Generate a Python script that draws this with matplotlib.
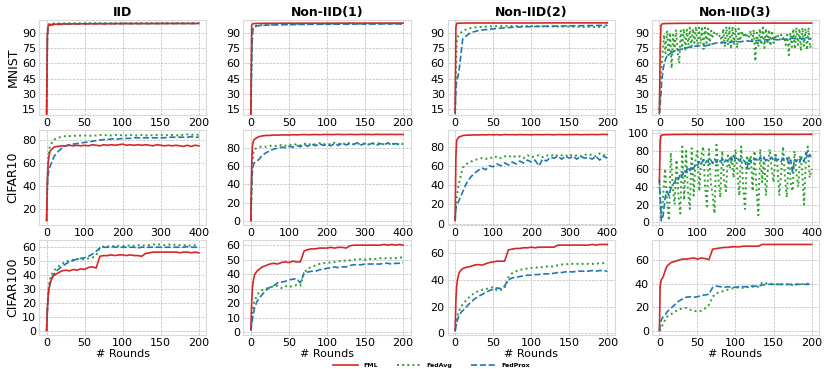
import matplotlib
matplotlib.use("Agg")
from matplotlib import pyplot as plt

r_sparse = [0, 1, 2, 3, 5, 10, 20, 30, 40, 60, 80, 100, 120, 140, 160, 180, 200]
r200 = [0, 1, 2, 3, 5, 8] + list(range(10, 201, 5))
r200_dense = list(range(0, 201, 2))
r400 = [0, 2, 4, 6, 8] + list(range(10, 401, 10))
r400_dense = list(range(0, 401, 5))

# MNIST
mnist_iid_fml = [10, 88, 96.5, 97.5, 98.0, 98.3, 98.5, 98.6, 98.7, 98.8, 98.8, 98.9, 98.9, 98.9, 99.0, 99.0, 99.0]
mnist_iid_fedavg = [12, 92, 98.0, 98.5, 98.8, 99.0, 99.1, 99.2, 99.2, 99.3, 99.3, 99.3, 99.3, 99.4, 99.4, 99.4, 99.4]
mnist_iid_fedprox = [10, 85, 96.0, 97.0, 97.5, 97.8, 98.2, 98.5, 98.6, 98.7, 98.8, 98.9, 98.9, 99.0, 99.0, 99.0, 99.0]

mnist_n1_fml = [10, 97, 98.5, 98.8, 99.0, 99.1, 99.2, 99.2, 99.3, 99.3, 99.3, 99.3, 99.4, 99.4, 99.4, 99.4, 99.4]
mnist_n1_fedavg = [12, 70, 92, 95, 96.5, 97.3, 97.8, 98.0, 98.2, 98.4, 98.5, 98.6, 98.7, 98.7, 98.8, 98.8, 98.8]
mnist_n1_fedprox = [10, 60, 88, 94, 96.0, 96.8, 97.3, 97.6, 97.8, 98.0, 98.2, 98.3, 98.4, 98.5, 98.5, 98.6, 98.6]

mnist_n2_fml = [12, 95, 99.0, 99.2, 99.3, 99.4, 99.5, 99.5, 99.5, 99.5, 99.5, 99.5, 99.6, 99.6, 99.6, 99.6, 99.6]
mnist_n2_fedavg = [15, 55, 80, 85, 88, 92, 94.5, 95.5, 96.0, 96.5, 96.5, 96.3, 96.2, 96.0, 95.8, 95.6, 95.5]
mnist_n2_fedprox = [10, 35, 44, 45, 52, 84, 90, 92, 93, 94.5, 95.5, 96, 96.3, 96.5, 96.8, 97, 97.2]

mnist_n3_fml = [12, 70, 97, 98.5, 98.8, 99.0, 99.1, 99.2, 99.2, 99.3, 99.3, 99.3, 99.3, 99.4, 99.4, 99.4, 99.4]
mnist_n3_fedavg = [15, 50, 66, 88, 70, 92, 68, 90, 55, 88,
                   72, 93, 70, 60, 92, 75, 94, 72, 93, 78,
                   95, 74, 94, 80, 96, 76, 95, 79, 96, 74,
                   95, 80, 94, 78, 92, 86, 90, 87, 89, 86,
                   88, 80, 94, 76, 96, 78, 95, 74, 96, 79,
                   95, 75, 94, 82, 92, 86, 90, 85, 89, 86,
                   92, 80, 93, 62, 90, 76, 94, 78, 95, 75,
                   94, 79, 93, 77, 92, 80, 88, 84, 87, 83,
                   88, 84, 86, 78, 88, 68, 90, 76, 94, 74,
                   95, 78, 94, 72, 95, 77, 94, 73, 95, 75,
                   80]
mnist_n3_fedprox = [10, 20, 30, 42, 55, 64, 67, 70, 72, 73, 74, 75, 76, 76.5, 77, 77.5, 77, 78, 79, 80,
                    80, 80.5, 80, 81, 81.5, 81, 81.5, 82, 81.5, 82, 82.5, 82.5, 83, 83, 83.5, 83, 84,
                    83.5, 84, 84.5, 84, 84.5, 84, 84.5, 84]

# CIFAR10
c10_iid_fml = [10, 45, 60, 66, 69, 71, 74, 74.5, 75, 75, 75.5, 75, 75.5, 75, 75.5, 75, 76, 75.5, 75, 76,
               75.5, 76, 75.5, 76, 76.5, 75.5, 76, 75.5, 76, 75.5, 76, 75.5, 75, 76, 75.5, 75, 75.5, 75,
               75.5, 75, 74.5, 75.5, 74.5, 75.5, 75]
c10_iid_fedavg = [10, 45, 62, 70, 74, 76, 80.5, 82, 83, 83.5, 83.5, 84, 83.5, 84, 84, 83.5, 84, 84, 84.5,
                  84, 84.5, 84, 84.5, 84, 84.5, 84, 84.5, 84, 84, 84.5, 84, 84.5, 84, 84.5, 84.5, 84, 84.5,
                  84.5, 84, 84.5, 84.5, 85, 84.5, 85, 84.5]
c10_iid_fedprox = [10, 40, 50, 54, 56, 58, 66, 70, 73, 75, 76, 76.5, 77, 77.5, 78, 78.5, 79, 79.5, 80, 80.5,
                   80.5, 81, 81, 81, 81.5, 81.5, 81.5, 82, 82, 82, 82, 82, 82, 82, 82, 82, 82.5, 82.5, 82.5,
                   82.5, 82.5, 82.5, 83, 82.5, 82.5]

c10_n1_fml = [0, 60, 82, 87, 89, 90, 92.5, 93.5, 94, 94, 94.5, 94.3, 94.5, 94.6, 94.5, 94.8, 94.6, 94.8, 95,
              94.7, 94.9, 95, 94.8, 95, 95.1, 94.9, 95, 95.2, 94.9, 95, 95.1, 95, 94.9, 95.2, 95, 95.1, 94.9,
              95.2, 95, 95.1, 95, 95.2, 95, 95.1, 95]
c10_n1_fedavg = [0, 40, 65, 74, 78, 79, 81, 82, 81.5, 82.5, 83, 82, 83.5, 82.5, 84, 83, 84.5, 83, 85, 83.5,
                 85, 84, 85.5, 84, 85, 84, 86, 84.5, 85.5, 84, 86, 84.5, 85, 84, 85.5, 84, 85, 84.5, 86, 84,
                 85.5, 84.5, 85, 84, 85]
c10_n1_fedprox = [0, 35, 55, 60, 63, 64, 67, 72, 75, 77, 79, 80, 81, 80.5, 82, 81, 83, 81.5, 84, 82, 84.5,
                  82.5, 85, 83, 84, 82.5, 85, 83, 85.5, 83.5, 85, 84, 86, 83.5, 85, 84, 85.5, 83, 85, 84,
                  85.5, 83.5, 85, 84, 84.5]

c10_n2_fml = [3, 70, 86, 88, 89, 90, 91.5, 92, 92, 92.3, 92.1, 92.4, 92.2, 92.5, 92.3, 92.5, 92.2, 92.6, 92.4,
              92.5, 92.3, 92.6, 92.4, 92.5, 92.3, 92.6, 92.5, 92.4, 92.6, 92.5, 92.3, 92.6, 92.5, 92.4, 92.6,
              92.5, 92.7, 92.4, 92.6, 92.5, 92.7, 92.5, 92.6, 92.8, 92.6]
c10_n2_fedavg = [5, 20, 27, 32, 38, 42, 58, 62, 64, 66, 67, 68, 67, 69, 68, 70, 68, 70, 69, 71, 69, 70, 68,
                 71, 69, 70, 71, 69, 71, 70, 72, 70, 71, 70, 72, 70, 71, 70, 72, 71, 72, 70, 73, 71, 73]
c10_n2_fedprox = [3, 15, 20, 21, 22, 24, 33, 42, 48, 52, 55, 58, 56, 60, 59, 62, 60, 63, 61, 64, 62, 65, 63,
                  66, 64, 66, 60, 67, 65, 69, 68, 70, 67, 70, 68, 70, 67, 70, 68, 69, 67, 70, 66, 70, 68]

c10_n3_fml = [45, 90, 97, 97.5, 98, 98, 98.3, 98.4, 98.5, 98.4, 98.5, 98.6, 98.5, 98.6, 98.5, 98.6, 98.5,
              98.6, 98.6, 98.5, 98.6, 98.6, 98.5, 98.6, 98.6, 98.5, 98.6, 98.6, 98.5, 98.6, 98.6, 98.6, 98.5,
              98.6, 98.6, 98.6, 98.5, 98.6, 98.6, 98.6, 98.5, 98.6, 98.6, 98.6, 98.6]
c10_n3_fedavg = [40, 5, 30, 60, 25, 2, 78, 40, 20, 70,
                 30, 10, 85, 25, 80, 35, 15, 83, 30, 70,
                 80, 35, 75, 85, 40, 18, 82, 45, 30, 10,
                 87, 50, 28, 80, 45, 35, 75, 60, 75, 50,
                 82, 55, 30, 85, 40, 15, 75, 60, 75, 35,
                 80, 40, 8, 82, 45, 75, 30, 60, 82, 60,
                 45, 78, 65, 30, 55, 85, 50, 28, 75, 45,
                 35, 80, 55, 40, 75, 60, 20, 70, 85, 50,
                 60]
c10_n3_fedprox = [48, 2, 8, 28, 35, 30, 38, 42, 45, 50,
                  48, 55, 52, 58, 56, 62, 58, 63, 60, 66,
                  64, 68, 65, 70, 66, 69, 67, 70, 66, 71,
                  67, 70, 68, 71, 67, 70, 68, 72, 69, 75,
                  70, 72, 69, 72, 70, 68, 60, 70, 68, 72,
                  70, 71, 68, 73, 70, 72, 69, 71, 70, 73,
                  69, 72, 70, 71, 68, 72, 70, 72, 66, 70,
                  56, 70, 68, 72, 69, 73, 68, 78, 72, 76,
                  72]

# CIFAR100
c100_iid_fml = [0, 15, 25, 30, 35, 39, 40, 41.5, 43, 43.5, 43, 44, 43.5, 44.5, 44, 45.5, 46, 45, 53.5, 54,
                54, 54.5, 54, 54.5, 54.5, 54, 54.5, 54, 54, 53.5, 55.5, 56, 56.5, 56.5, 56.5, 56.5, 56.5,
                56.5, 56.5, 56, 56.5, 56.5, 56, 56.5, 56]
c100_iid_fedavg = [0, 18, 28, 33, 38, 42, 43.5, 46, 48, 49.5, 50.5, 51, 51.5, 51, 51.5, 52, 52.5, 54, 59.5,
                   60.5, 60.5, 61, 60.5, 61, 61, 61, 61.5, 61, 61.5, 61, 61.5, 61.5, 62, 62, 62, 61.5, 62,
                   61.5, 62, 61.5, 61.5, 61.5, 61, 61.5, 61]
c100_iid_fedprox = [0, 15, 25, 30, 35, 39, 41, 44, 46, 48, 49.5, 50.5, 51.5, 52, 52.5, 53.5, 55, 57, 59.5,
                    60, 60, 60.5, 60, 60, 60, 60, 60, 60, 59.5, 60, 60, 60, 60, 60, 60, 60, 60, 60, 60, 60,
                    60, 60.5, 60, 60, 60]

c100_n1_fml = [2, 20, 30, 35, 40, 42, 43, 45, 46, 47, 47.5, 47, 48, 48.5, 48, 49, 48.5, 48.5, 56, 57, 57.5,
               57.5, 58, 58, 58, 58.5, 58, 58.5, 58.5, 58, 59.5, 60, 60, 60, 60, 60, 60, 60, 60, 60.5, 60,
               60.5, 60, 60.5, 60]
c100_n1_fedavg = [2, 8, 14, 18, 22, 25, 27, 29, 30, 31, 31.5, 32, 30.5, 32, 31, 32, 32.5, 32, 41, 44, 45,
                  46, 47, 47.5, 48, 48, 48.5, 49, 49, 49.5, 49.5, 50, 50, 50.5, 50, 50.5, 50.5, 50.5, 51,
                  51, 51, 51, 51, 51.5, 51.5]
c100_n1_fedprox = [1, 5, 9, 12, 17, 21, 23, 26, 29, 31, 32, 34, 34.5, 35, 36, 36.5, 37, 34, 41, 41.5, 42,
                   42, 43, 43.5, 44, 44.5, 45, 44.5, 45, 45, 46, 46.5, 46.5, 46.5, 47, 47, 47, 47, 47, 47.5,
                   47.5, 47, 47.5, 47.5, 48]

c100_n2_fml = [2, 25, 35, 40, 45, 47.5, 48.5, 49.5, 50, 51, 51.5, 51, 52, 53, 53.5, 54, 54, 54, 62.5, 63,
               63.5, 63.5, 64, 64, 64.5, 64, 64.5, 64.5, 64.5, 64.5, 64.5, 66, 66, 66, 66, 66, 66, 66, 66,
               66, 66.5, 66, 66.5, 66.5, 66.5]
c100_n2_fedavg = [2, 6, 10, 13, 17, 20, 22, 25, 28, 30, 31.5, 32.5, 33, 34, 34.5, 32, 32.5, 34, 42, 45,
                  46.5, 47.5, 48, 48.5, 49, 49, 49.5, 49.5, 50, 50, 50, 51, 51.5, 51.5, 52, 52, 52, 52, 52,
                  52, 52, 52, 52.5, 52.5, 52.5]
c100_n2_fedprox = [2, 5, 8, 10, 13, 16, 17, 20, 23, 25.5, 27.5, 29, 30.5, 32, 33, 34, 33.5, 35.5, 40, 41.5,
                   42, 42.5, 43, 43.5, 43.5, 44, 44, 44.5, 44.5, 44.5, 45, 45.5, 45.5, 46, 46, 46, 46.5,
                   46.5, 46.5, 46.5, 47, 46.5, 47, 47, 46.5]

c100_n3_fml = [0, 38, 42, 44, 46, 52, 55, 58, 59, 60, 61, 61, 61.5, 62, 61, 62, 61.5, 60.5, 69.5, 70, 70.5,
               71, 71, 71.5, 71.5, 71.5, 72, 72, 72, 72, 72, 73.5, 73.5, 73.5, 73.5, 73.5, 73.5, 73.5, 73.5,
               73.5, 73.5, 73.5, 73.5, 73.5, 73.5]
c100_n3_fedavg = [0, 1, 2, 3, 6, 10, 12, 14, 16, 18, 19, 19.5, 18, 17, 16.5, 17, 19, 22, 29, 32, 33, 34, 35,
                  36, 36.5, 37, 36.5, 37, 37.5, 37.5, 37.5, 41, 40.5, 40, 40, 39.5, 39.5, 39.5, 39.5, 39,
                  39.5, 39.5, 40, 40, 40.5]
c100_n3_fedprox = [0, 5, 8, 10, 12, 14, 16, 19, 22, 25, 27, 28.5, 29, 28.5, 29, 30, 30.5, 31, 37, 38, 37.5,
                   37, 37.5, 37, 37, 37.5, 37.5, 37.5, 38, 38, 38, 39, 39.5, 39.5, 39.5, 39.5, 39.5, 39.5,
                   39.5, 39.5, 39.5, 39.5, 39.5, 39.5, 40]

col_titles = ['IID', 'Non-IID(1)', 'Non-IID(2)', 'Non-IID(3)']
row_names = ['MNIST', 'CIFAR10', 'CIFAR100']
methods = ['FML', 'FedAvg', 'FedProx']

# (x, y) per method for every panel
panels = [
    [[(r_sparse, mnist_iid_fml), (r_sparse, mnist_iid_fedavg), (r_sparse, mnist_iid_fedprox)],
     [(r_sparse, mnist_n1_fml), (r_sparse, mnist_n1_fedavg), (r_sparse, mnist_n1_fedprox)],
     [(r_sparse, mnist_n2_fml), (r_sparse, mnist_n2_fedavg), (r_sparse, mnist_n2_fedprox)],
     [(r_sparse, mnist_n3_fml), (r200_dense, mnist_n3_fedavg), (r200, mnist_n3_fedprox)]],
    [[(r400, c10_iid_fml), (r400, c10_iid_fedavg), (r400, c10_iid_fedprox)],
     [(r400, c10_n1_fml), (r400, c10_n1_fedavg), (r400, c10_n1_fedprox)],
     [(r400, c10_n2_fml), (r400, c10_n2_fedavg), (r400, c10_n2_fedprox)],
     [(r400, c10_n3_fml), (r400_dense, c10_n3_fedavg), (r400_dense, c10_n3_fedprox)]],
    [[(r200, c100_iid_fml), (r200, c100_iid_fedavg), (r200, c100_iid_fedprox)],
     [(r200, c100_n1_fml), (r200, c100_n1_fedavg), (r200, c100_n1_fedprox)],
     [(r200, c100_n2_fml), (r200, c100_n2_fedavg), (r200, c100_n2_fedprox)],
     [(r200, c100_n3_fml), (r200, c100_n3_fedavg), (r200, c100_n3_fedprox)]],
]

styles = [dict(color='#d62728', linestyle='-', linewidth=1.2, zorder=4),
          dict(color='#2ca02c', linestyle=':', linewidth=1.4, zorder=2),
          dict(color='#1f77b4', linestyle='--', linewidth=1.2, zorder=3)]

yticks = [
    [[15, 30, 45, 60, 75, 90]] * 4,
    [[20, 40, 60, 80], [0, 20, 40, 60, 80], [0, 20, 40, 60, 80], [0, 20, 40, 60, 80, 100]],
    [[0, 10, 20, 30, 40, 50, 60], [0, 10, 20, 30, 40, 50, 60], [0, 20, 40, 60], [0, 20, 40, 60]],
]

plt.rcParams['font.family'] = 'DejaVu Sans'
fig, axes = plt.subplots(3, 4, figsize=(8.3, 3.69), dpi=100)
fig.subplots_adjust(left=0.047, right=0.987, top=0.946, bottom=0.092, wspace=0.22, hspace=0.16)

for i in range(3):
    for j in range(4):
        ax = axes[i, j]
        lines = []
        for k in range(3):
            x, y = panels[i][j][k]
            ln, = ax.plot(x, y, label=methods[k], **styles[k])
            lines.append(ln)
        if i == 1:
            ax.set_xticks([0, 100, 200, 300, 400])
        else:
            ax.set_xticks([0, 50, 100, 150, 200])
        ax.set_yticks(yticks[i][j])
        if i == 0:
            ax.set_ylim(9.5, 102.5)
            ax.set_title(col_titles[j], fontsize=9, fontweight='bold', pad=3)
        if j == 0:
            ax.set_ylabel(row_names[i], fontsize=9, labelpad=2)
        if i == 2:
            ax.set_xlabel('# Rounds', fontsize=8, labelpad=1)
        ax.grid(True, linestyle='--', linewidth=0.5, color='#b8b8b8')
        ax.tick_params(axis='both', length=0, labelsize=8, pad=2)
        for s in ax.spines.values():
            s.set_color('#d9d9d9')
            s.set_linewidth(0.8)

fig.legend(lines, methods, loc='lower center', bbox_to_anchor=(0.52, -0.012), ncol=3, frameon=False,
           prop=dict(size=4.5, weight='bold'), handlelength=4, columnspacing=3)

plt.savefig('out.png', dpi=100)
